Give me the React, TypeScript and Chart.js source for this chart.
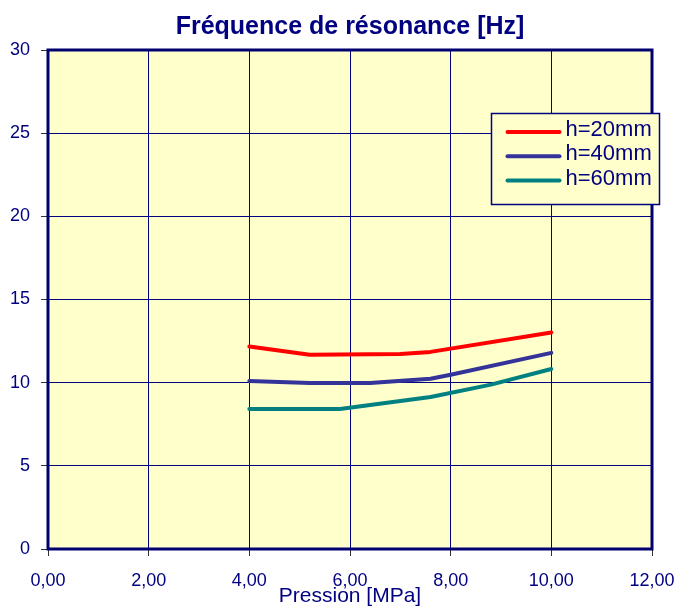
import React, { useEffect, useRef } from 'react';
import { Chart, registerables } from 'chart.js';

Chart.register(...registerables);

const chartTitle = 'Fréquence de résonance [Hz]';
const xAxisTitle = 'Pression [MPa]';
const seriesLabels = ['h=20mm', 'h=40mm', 'h=60mm'];
const seriesColors = ['#FF0000', '#333399', '#008080'];

const pressure20 = [4, 5.2, 7.0, 7.6, 10];
const freq20 = [12.18, 11.68, 11.72, 11.85, 13.02];
const pressure40 = [4, 5.2, 6.4, 7.6, 8.0, 10];
const freq40 = [10.1, 9.98, 9.98, 10.24, 10.48, 11.79];
const pressure60 = [4, 5.8, 7.6, 8.8, 10];
const freq60 = [8.42, 8.42, 9.14, 9.88, 10.82];

const xMin = 0;
const xMax = 12;
const xStep = 2;
const yMin = 0;
const yMax = 30;
const yStep = 5;

const NAVY = '#000080';
const FONT = '"Liberation Sans", Arial, sans-serif';

const toPoints = (xs: number[], ys: number[]) => xs.map((x, i) => ({ x, y: ys[i] }));

const bgPlugin = {
  id: 'plotBg',
  beforeDraw(chart: any) {
    const { ctx, chartArea: a } = chart;
    ctx.save();
    ctx.fillStyle = '#FFFFCC';
    ctx.fillRect(a.left, a.top, a.right - a.left, a.bottom - a.top);
    ctx.restore();
  },
};

const framePlugin = {
  id: 'plotFrame',
  beforeDatasetsDraw(chart: any) {
    const { ctx, chartArea: a } = chart;
    ctx.save();
    ctx.strokeStyle = '#000070';
    ctx.lineWidth = 3;
    ctx.strokeRect(a.left, a.top, a.right - a.left, a.bottom - a.top);
    ctx.restore();
  },
};

const legendPlugin = {
  id: 'boxLegend',
  afterDraw(chart: any) {
    const { ctx, chartArea: a } = chart;
    const left = a.left + 443.5;
    const top = a.top + 63.5;
    const w = 168;
    const h = 91;
    ctx.save();
    ctx.fillStyle = '#FFFFCC';
    ctx.fillRect(left, top, w, h);
    ctx.strokeStyle = NAVY;
    ctx.lineWidth = 1.5;
    ctx.strokeRect(left, top, w, h);
    ctx.font = '22px ' + FONT;
    ctx.textBaseline = 'middle';
    ctx.textAlign = 'left';
    chart.data.datasets.forEach((ds: any, i: number) => {
      const y = top + 18.5 + i * 24.3;
      ctx.strokeStyle = ds.borderColor;
      ctx.lineWidth = 4;
      ctx.lineCap = 'round';
      ctx.beginPath();
      ctx.moveTo(left + 16, y);
      ctx.lineTo(left + 68, y);
      ctx.stroke();
      ctx.fillStyle = NAVY;
      ctx.fillText(ds.label, left + 74, y - 2);
    });
    ctx.restore();
  },
};

export default function App() {
  const ref = useRef<HTMLCanvasElement | null>(null);

  useEffect(() => {
    document.body.style.margin = '0';
    if (!ref.current) return;
    const mk = (i: number, xs: number[], ys: number[]) => ({
      label: seriesLabels[i],
      data: toPoints(xs, ys),
      borderColor: seriesColors[i],
      backgroundColor: seriesColors[i],
      borderWidth: 4,
      pointRadius: 0,
      tension: 0,
      borderCapStyle: 'round',
      borderJoinStyle: 'round',
      fill: false,
    });
    const chart = new Chart(ref.current, {
      type: 'line',
      data: {
        datasets: [
          mk(0, pressure20, freq20),
          mk(1, pressure40, freq40),
          mk(2, pressure60, freq60),
        ] as any,
      },
      options: {
        responsive: false,
        animation: false,
        layout: { padding: { left: 0, right: 24, top: 0, bottom: 0 } },
        plugins: {
          legend: { display: false },
          tooltip: { enabled: false },
          title: {
            display: true,
            text: chartTitle,
            color: NAVY,
            fullSize: false,
            font: { family: FONT, size: 25, weight: 'bold' },
            padding: { top: 12, bottom: 8 },
          },
        },
        scales: {
          x: {
            type: 'linear',
            min: xMin,
            max: xMax,
            afterFit(scale: any) {
              scale.height = 63;
              scale.paddingLeft = 0;
              scale.paddingRight = 0;
            },
            ticks: {
              stepSize: xStep,
              color: NAVY,
              padding: 14,
              maxRotation: 0,
              font: { family: FONT, size: 18 },
              callback: (v: any) => Number(v).toFixed(2).replace('.', ','),
            },
            grid: {
              color: NAVY,
              lineWidth: 1,
              drawTicks: true,
              tickLength: 7,
              tickColor: '#333333',
            },
            border: { display: false },
            title: {
              display: true,
              text: xAxisTitle,
              color: NAVY,
              font: { family: FONT, size: 21 },
              padding: { top: 0, bottom: 3 },
            },
          },
          y: {
            type: 'linear',
            min: yMin,
            max: yMax,
            afterFit(scale: any) {
              scale.width = 48;
            },
            ticks: {
              stepSize: yStep,
              color: NAVY,
              padding: 11,
              font: { family: FONT, size: 18 },
            },
            grid: {
              color: NAVY,
              lineWidth: 1,
              drawTicks: true,
              tickLength: 7,
              tickColor: '#333333',
            },
            border: { display: false },
          },
        },
      } as any,
      plugins: [bgPlugin, framePlugin, legendPlugin],
    });
    return () => chart.destroy();
  }, []);

  return (
    <div style={{ width: 676, height: 612 }}>
      <canvas ref={ref} width={676} height={612} style={{ display: 'block' }} />
    </div>
  );
}
